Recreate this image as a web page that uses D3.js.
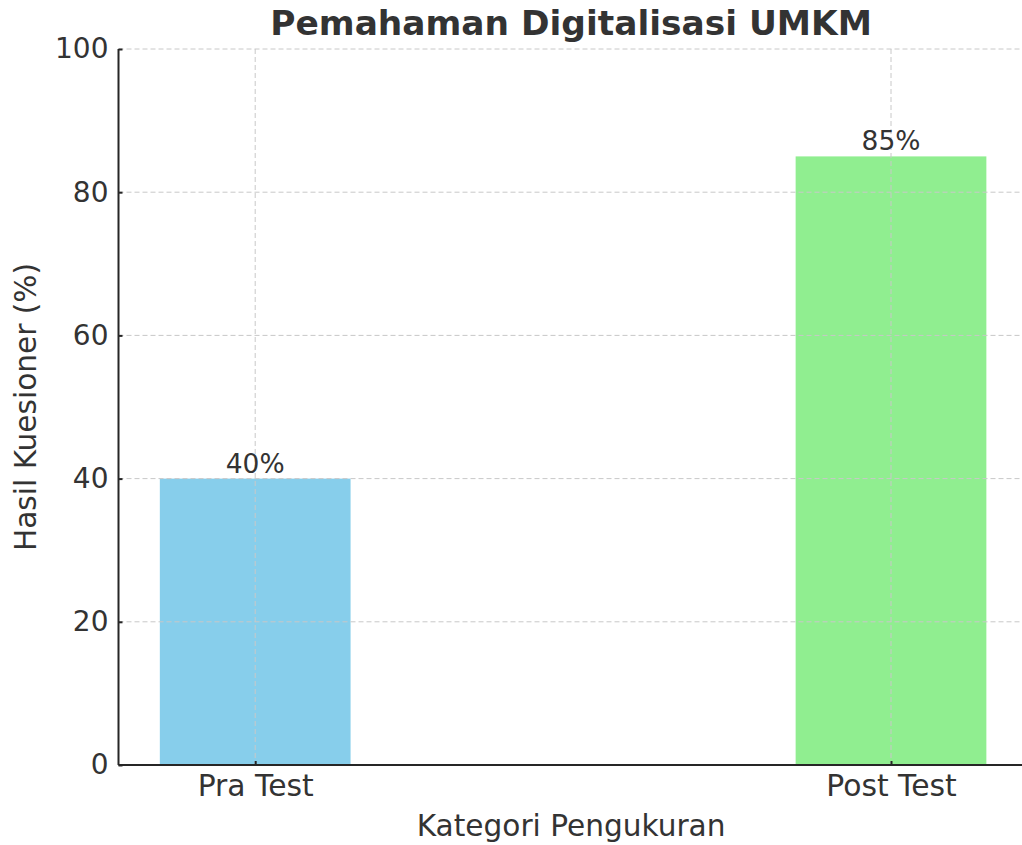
<!DOCTYPE html>
<html>
<head>
<meta charset="utf-8">
<script src="https://cdn.jsdelivr.net/npm/d3@7"></script>
<style>
  body { margin: 0; background: #fff; }
  text { font-family: "DejaVu Sans", sans-serif; fill: #333; }
</style>
</head>
<body>
<div id="chart"></div>
<script>
var categories = ["Pra Test", "Post Test"];
var values = [40, 85];
var barColors = ["#87CEEB", "#90EE90"];
var yTicks = [0, 20, 40, 60, 80, 100];

var W = 1022, H = 845;
var margin = { top: 49, left: 118.5, bottom: 80 },
    plotRight = 1027.7,
    height = H - margin.top - margin.bottom;

var svg = d3.select("#chart").append("svg")
    .attr("width", W)
    .attr("height", H);

var xScale = d3.scalePoint()
    .domain(categories)
    .range([margin.left, plotRight])
    .padding(0.215);

var barWidth = xScale.step() * 0.3;

var yScale = d3.scaleLinear()
    .domain([0, 100])
    .range([margin.top + height, margin.top]);

// bars
svg.selectAll(".bar")
    .data(values)
    .enter()
    .append("rect")
    .attr("class", "bar")
    .attr("x", function (d, i) { return xScale(categories[i]) - barWidth / 2; })
    .attr("width", barWidth)
    .attr("y", function (d) { return yScale(d); })
    .attr("height", function (d) { return yScale(0) - yScale(d); })
    .attr("fill", function (d, i) { return barColors[i]; });

// grid (drawn over bars)
var grid = svg.append("g").attr("class", "grid");
grid.selectAll(".hgrid")
    .data(yTicks)
    .enter()
    .append("line")
    .attr("x1", margin.left)
    .attr("x2", plotRight)
    .attr("y1", function (d) { return yScale(d); })
    .attr("y2", function (d) { return yScale(d); })
    .attr("stroke", "#c8c8c8")
    .attr("stroke-width", 1)
    .attr("stroke-dasharray", "5,3");
grid.selectAll(".vgrid")
    .data(categories)
    .enter()
    .append("line")
    .attr("x1", function (d) { return xScale(d); })
    .attr("x2", function (d) { return xScale(d); })
    .attr("y1", margin.top)
    .attr("y2", yScale(0))
    .attr("stroke", "#c8c8c8")
    .attr("stroke-width", 1)
    .attr("stroke-dasharray", "5,3");

// value labels
svg.selectAll(".vlabel")
    .data(values)
    .enter()
    .append("text")
    .attr("x", function (d, i) { return xScale(categories[i]); })
    .attr("y", function (d) { return yScale(d) - 6; })
    .attr("text-anchor", "middle")
    .style("font-size", "26.5px")
    .text(function (d) { return d + "%"; });

// axes
var yAxis = svg.append("g")
    .attr("transform", "translate(" + margin.left + ",0)")
    .call(d3.axisLeft(yScale).tickValues(yTicks).tickSize(-4).tickPadding(10));

var xAxis = svg.append("g")
    .attr("transform", "translate(0," + yScale(0) + ")")
    .call(d3.axisBottom(xScale).tickSize(-4).tickPadding(8));

[yAxis, xAxis].forEach(function (ax) {
    ax.select(".domain").attr("stroke", "#262626").attr("stroke-width", 2);
    ax.selectAll(".tick line").attr("stroke", "#262626").attr("stroke-width", 2);
    ax.selectAll("text")
        .style("font-size", "28px")
        .style("font-family", "DejaVu Sans, sans-serif")
        .attr("fill", "#262626");
});
yAxis.select(".domain").attr("d", "M0," + yScale(100) + "V" + yScale(0));
xAxis.select(".domain").attr("d", "M" + margin.left + ",0H" + plotRight);
xAxis.selectAll("text").style("font-size", "29.8px").attr("dy", "0.71em").attr("y", 10);

// titles
svg.append("text")
    .attr("x", (margin.left + plotRight) / 2 - 2)
    .attr("y", 35)
    .attr("text-anchor", "middle")
    .style("font-size", "34.4px")
    .style("font-weight", "bold")
    .text("Pemahaman Digitalisasi UMKM");

svg.append("text")
    .attr("x", (margin.left + plotRight) / 2 - 2)
    .attr("y", 836)
    .attr("text-anchor", "middle")
    .style("font-size", "29.6px")
    .attr("fill", "#262626")
    .text("Kategori Pengukuran");

svg.append("text")
    .attr("transform", "translate(36," + yScale(50) + ") rotate(-90)")
    .attr("text-anchor", "middle")
    .style("font-size", "29.6px")
    .attr("fill", "#262626")
    .text("Hasil Kuesioner (%)");
</script>
</body>
</html>
